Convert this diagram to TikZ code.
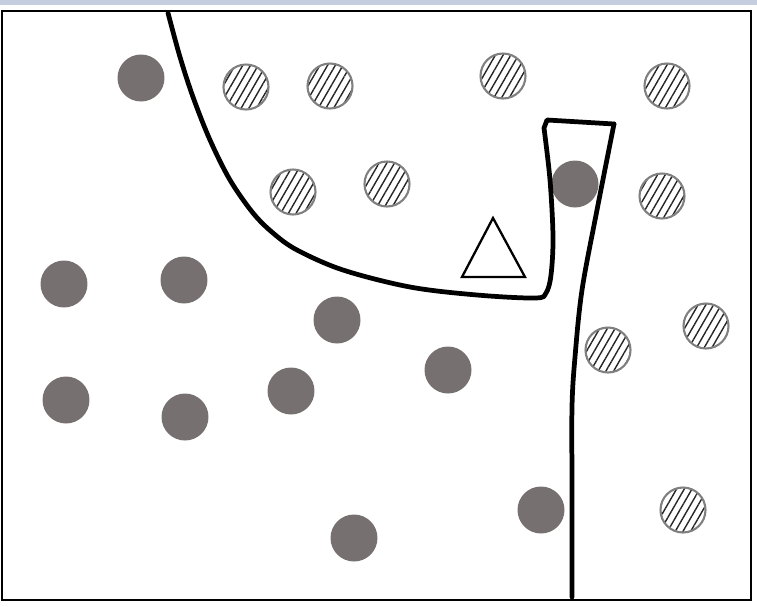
\documentclass[tikz,border=0pt]{standalone}
\usetikzlibrary{patterns.meta}
\definecolor{dotgray}{RGB}{118,113,112}
\definecolor{bandblue}{RGB}{197,206,223}
\tikzset{
  fulldot/.style={circle,fill=dotgray,minimum size=0.94cm,inner sep=0pt},
  hatchdot/.style={circle,draw=gray,line width=1.2pt,minimum size=0.9cm,inner sep=0pt,
    pattern={Lines[angle=60,distance=3.8pt,line width=0.8pt]},pattern color=black!85},
  boundary/.style={line width=2.7pt,line join=round,line cap=round}
}
\begin{document}
\begin{tikzpicture}[x=0.02cm,y=-0.02cm]
\useasboundingbox (0,0) rectangle (757,606);
\fill[bandblue] (0,0) rectangle (757,5);
\draw[line width=1.4pt] (2,11) rectangle (751,600);
% first class
\node[fulldot] (s1) at (141,78) {};
\node[fulldot] (s2) at (575,184) {};
\node[fulldot] (s3) at (64,284) {};
\node[fulldot] (s4) at (184,280) {};
\node[fulldot] (s5) at (337,320) {};
\node[fulldot] (s6) at (66,400) {};
\node[fulldot] (s7) at (185,417) {};
\node[fulldot] (s8) at (291,391) {};
\node[fulldot] (s9) at (448,370) {};
\node[fulldot] (s10) at (354,538) {};
\node[fulldot] (s11) at (541,510) {};
% second class
\node[hatchdot] (h1) at (246,87) {};
\node[hatchdot] (h2) at (330,86) {};
\node[hatchdot] (h3) at (503,76) {};
\node[hatchdot] (h4) at (667,86) {};
\node[hatchdot] (h5) at (293,192) {};
\node[hatchdot] (h6) at (387,184) {};
\node[hatchdot] (h7) at (662,196) {};
\node[hatchdot] (h8) at (608,350) {};
\node[hatchdot] (h9) at (706,326) {};
\node[hatchdot] (h10) at (683,510) {};
% query point
\draw[line width=1.3pt,line join=miter] (462,277)--(493,218)--(525,277)--cycle;
% decision boundary
\draw[boundary] plot[smooth,tension=0.55] coordinates {(168,13) (180,57) (193,97) (210,140)
  (230,180) (253,213) (273,233) (297,250) (343,270) (410,287) (477,295) (535,298)
  (546,293) (551,275) (553,237) (550,180) (544,128)}
  -- (547,120) -- (614,124);
\draw[boundary] plot[smooth,tension=0.55] coordinates {(614,124) (597,210) (582,290)
  (575,357) (572,407) (572,490) (572,597)};
\end{tikzpicture}
\end{document}
